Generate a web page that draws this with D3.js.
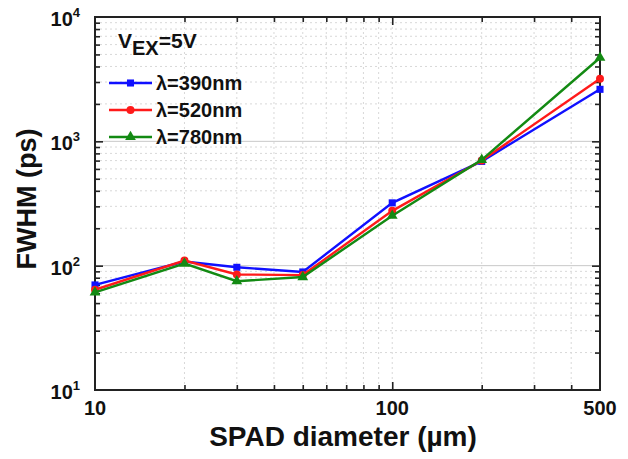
<!DOCTYPE html>
<html><head><meta charset="utf-8">
<script src="https://cdn.jsdelivr.net/npm/d3@7"></script>
<style>body{margin:0;background:#fff}svg{display:block}text{font-family:Arial,"Liberation Sans",sans-serif;font-weight:bold}</style>
</head><body><svg id="c" width="628" height="459"></svg>
<script>
const diameters = [10, 20, 30, 50, 100, 200, 500];
const fwhm390 = [70, 108, 97, 89, 320, 690, 2620];
const fwhm520 = [64, 110, 85, 84, 276, 700, 3190];
const fwhm780 = [61, 104, 75, 81, 252, 710, 4700];
const seriesNames = ["λ=390nm", "λ=520nm", "λ=780nm"];
const seriesColors = ["#1010ff", "#ff1a1a", "#138a13"];
const seriesShapes = [d3.symbolSquare, d3.symbolCircle, d3.symbolTriangle];
const xTickLabels = [10, 100, 500];
const yTickExps = [1, 2, 3, 4];

const svg = d3.select("#c");
const L = 95, R = 600, T = 17, B = 390;
const x = d3.scaleLog().domain([10, 500]).range([L, R]);
const y = d3.scaleLog().domain([10, 10000]).range([B, T]);

const xMinor = [], yMinor = [];
[10, 100].forEach(d => { for (let k = 2; k <= 9; k++) { const v = d * k; if (v < 500) xMinor.push(v); } });
[10, 100, 1000].forEach(d => { for (let k = 2; k <= 9; k++) yMinor.push(d * k); });

const g = svg.append("g");
g.selectAll(".gxm").data(xMinor.concat([100])).enter().append("line")
  .attr("x1", d => x(d)).attr("x2", d => x(d)).attr("y1", T).attr("y2", B)
  .attr("stroke", "#d8d8d8").attr("stroke-width", 1).attr("stroke-dasharray", "2,3");
g.selectAll(".gym").data(yMinor).enter().append("line")
  .attr("y1", d => y(d)).attr("y2", d => y(d)).attr("x1", L).attr("x2", R)
  .attr("stroke", "#d8d8d8").attr("stroke-width", 1).attr("stroke-dasharray", "2,3");
g.selectAll(".gyM").data([100, 1000]).enter().append("line")
  .attr("y1", d => y(d)).attr("y2", d => y(d)).attr("x1", L).attr("x2", R)
  .attr("stroke", "#c8c8c8").attr("stroke-width", 1);

const axB = d3.axisTop(x).tickValues([100]).tickSize(8).tickFormat("");
const axBm = d3.axisTop(x).tickValues(xMinor).tickSize(5).tickFormat("");
const axT = d3.axisBottom(x).tickValues([100]).tickSize(8).tickFormat("");
const axTm = d3.axisBottom(x).tickValues(xMinor).tickSize(5).tickFormat("");
const axL = d3.axisRight(y).tickValues([100, 1000]).tickSize(8).tickFormat("");
const axLm = d3.axisRight(y).tickValues(yMinor).tickSize(5).tickFormat("");
const axR = d3.axisLeft(y).tickValues([100, 1000]).tickSize(8).tickFormat("");
const axRm = d3.axisLeft(y).tickValues(yMinor).tickSize(5).tickFormat("");
function styl(sel){ sel.select(".domain").remove(); sel.selectAll("line").attr("stroke","#222").attr("stroke-width",1.6); }
svg.append("g").attr("transform",`translate(0,${B})`).call(axB).call(styl);
svg.append("g").attr("transform",`translate(0,${B})`).call(axBm).call(styl);
svg.append("g").attr("transform",`translate(0,${T})`).call(axT).call(styl);
svg.append("g").attr("transform",`translate(0,${T})`).call(axTm).call(styl);
svg.append("g").attr("transform",`translate(${L},0)`).call(axL).call(styl);
svg.append("g").attr("transform",`translate(${L},0)`).call(axLm).call(styl);
svg.append("g").attr("transform",`translate(${R},0)`).call(axR).call(styl);
svg.append("g").attr("transform",`translate(${R},0)`).call(axRm).call(styl);
svg.append("rect").attr("x",L).attr("y",T).attr("width",R-L).attr("height",B-T)
  .attr("fill","none").attr("stroke","#222").attr("stroke-width",2);

svg.selectAll(".xl").data(xTickLabels).enter().append("text")
  .attr("x", d => x(d)).attr("y", 415).attr("text-anchor","middle")
  .attr("font-size", 20).attr("fill","#111").text(d => d);
const yl = svg.selectAll(".yl").data(yTickExps).enter().append("text")
  .attr("x", 80).attr("y", d => y(Math.pow(10, d)) + 9).attr("text-anchor","end")
  .attr("font-size", 20).attr("fill","#111");
yl.append("tspan").text("10");
yl.append("tspan").attr("dy", -9).attr("font-size", 13).text(d => d);

svg.append("text").attr("x", 343).attr("y", 446).attr("text-anchor","middle")
  .attr("font-size", 28).attr("fill","#111").text("SPAD diameter (µm)");
svg.append("text").attr("transform","translate(36,199) rotate(-90)").attr("text-anchor","middle")
  .attr("font-size", 27).attr("fill","#111").text("FWHM (ps)");

const allSeries = [fwhm390, fwhm520, fwhm780];
const line = d3.line().x((d,i) => x(diameters[i])).y(d => y(d));
allSeries.forEach((s, k) => {
  svg.append("path").datum(s).attr("d", line).attr("fill","none")
    .attr("stroke", seriesColors[k]).attr("stroke-width", 2.4);
  svg.selectAll(".m"+k).data(s).enter().append("path")
    .attr("transform", (d,i) => `translate(${x(diameters[i])},${y(d)})`)
    .attr("d", d3.symbol().type(seriesShapes[k]).size(50))
    .attr("fill", seriesColors[k]);
});

const vt = svg.append("text").attr("x", 118).attr("y", 48).attr("font-size", 21).attr("fill","#111");
vt.append("tspan").text("V");
vt.append("tspan").attr("dy", 7).attr("font-size", 20).text("EX");
vt.append("tspan").attr("dy", -7).text("=5V");
seriesNames.forEach((n, k) => {
  const ly = 83 + k * 27;
  svg.append("line").attr("x1", 109).attr("x2", 152).attr("y1", ly).attr("y2", ly)
    .attr("stroke", seriesColors[k]).attr("stroke-width", 2.4);
  svg.append("path").attr("transform", `translate(130.5,${ly})`)
    .attr("d", d3.symbol().type(seriesShapes[k]).size(50)).attr("fill", seriesColors[k]);
  svg.append("text").attr("x", 156).attr("y", ly + 7).attr("font-size", 20).attr("fill","#111").text(n);
});
</script></body></html>
